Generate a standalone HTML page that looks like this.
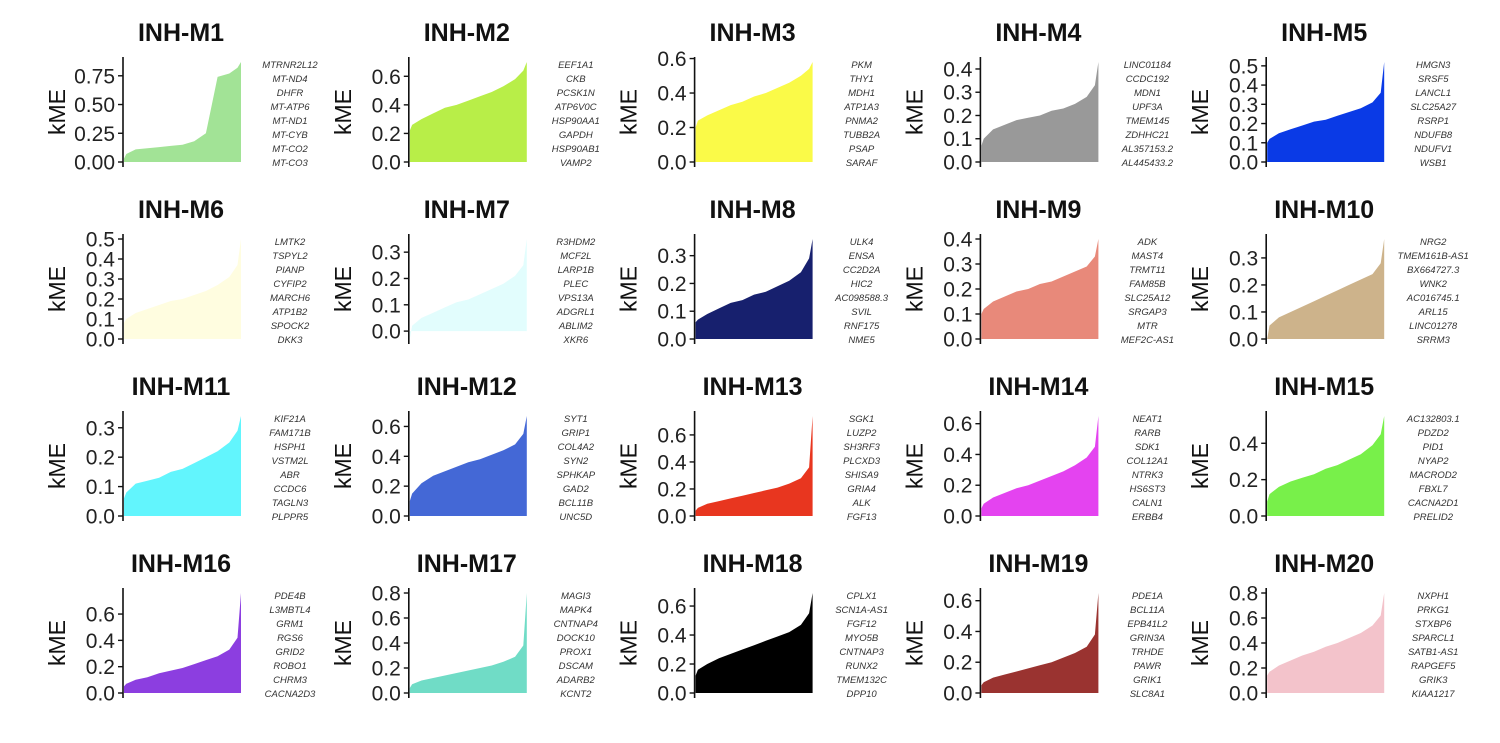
<!DOCTYPE html>
<html><head><meta charset="utf-8">
<style>
html,body{margin:0;padding:0;background:#fff;}
svg{display:block;font-family:"Liberation Sans",Arial,sans-serif;}
</style></head>
<body>
<svg id="chart" width="1500" height="743" viewBox="0 0 1500 743"></svg>
<script>
const moduleNames = ["INH-M1","INH-M2","INH-M3","INH-M4","INH-M5","INH-M6","INH-M7","INH-M8","INH-M9","INH-M10","INH-M11","INH-M12","INH-M13","INH-M14","INH-M15","INH-M16","INH-M17","INH-M18","INH-M19","INH-M20"];
const moduleColors = ["#a2e396","#b8ee48","#fafa48","#999999","#0a3ae6","#fffde0","#e2fdfd","#17206e","#e8897a","#cdb38b","#62f5fd","#4468d6","#e8361f","#e443f0","#78f04a","#8c3ee0","#70dcc6","#000000","#9a3330","#f3c3cb"];
const rankFractions = [0,0.02,0.1,0.2,0.3,0.4,0.5,0.6,0.7,0.8,0.9,0.97,1];
const kmeValues = [
 [0.03,0.07,0.11,0.12,0.13,0.14,0.15,0.18,0.25,0.74,0.77,0.82,0.87],
 [0.22,0.26,0.30,0.34,0.38,0.40,0.43,0.46,0.49,0.53,0.58,0.64,0.70],
 [0.20,0.24,0.27,0.30,0.33,0.35,0.38,0.40,0.43,0.46,0.50,0.54,0.58],
 [0.07,0.10,0.14,0.16,0.18,0.19,0.20,0.22,0.23,0.25,0.28,0.33,0.43],
 [0.10,0.12,0.15,0.17,0.19,0.21,0.22,0.24,0.26,0.28,0.31,0.36,0.52],
 [0.08,0.10,0.13,0.15,0.17,0.19,0.20,0.22,0.24,0.27,0.31,0.37,0.50],
 [-0.03,0.02,0.05,0.07,0.09,0.11,0.12,0.14,0.16,0.18,0.21,0.25,0.35],
 [0.06,0.07,0.09,0.11,0.13,0.14,0.16,0.17,0.19,0.21,0.24,0.29,0.36],
 [0.10,0.12,0.15,0.17,0.19,0.20,0.22,0.23,0.25,0.27,0.29,0.33,0.40],
 [0.00,0.05,0.08,0.10,0.12,0.14,0.16,0.18,0.20,0.22,0.24,0.28,0.37],
 [0.06,0.08,0.11,0.12,0.13,0.15,0.16,0.18,0.20,0.22,0.25,0.29,0.34],
 [0.10,0.15,0.22,0.27,0.30,0.33,0.36,0.38,0.41,0.44,0.48,0.55,0.67],
 [0.04,0.06,0.09,0.11,0.13,0.15,0.17,0.19,0.21,0.24,0.28,0.36,0.74],
 [0.05,0.08,0.12,0.15,0.18,0.20,0.23,0.26,0.29,0.33,0.38,0.45,0.65],
 [0.08,0.12,0.16,0.19,0.21,0.23,0.26,0.28,0.31,0.34,0.39,0.45,0.55],
 [0.05,0.07,0.10,0.12,0.15,0.17,0.19,0.22,0.25,0.28,0.33,0.42,0.76],
 [0.04,0.07,0.10,0.12,0.14,0.16,0.18,0.20,0.22,0.25,0.29,0.38,0.80],
 [0.12,0.16,0.20,0.24,0.27,0.30,0.33,0.36,0.39,0.42,0.47,0.55,0.69],
 [0.05,0.07,0.10,0.12,0.14,0.16,0.18,0.20,0.23,0.26,0.30,0.38,0.65],
 [0.14,0.17,0.22,0.26,0.30,0.33,0.37,0.40,0.44,0.48,0.54,0.62,0.80]
];
const tickLabels = [
 ["0.00","0.25","0.50","0.75"],["0.0","0.2","0.4","0.6"],["0.0","0.2","0.4","0.6"],["0.0","0.1","0.2","0.3","0.4"],["0.0","0.1","0.2","0.3","0.4","0.5"],
 ["0.0","0.1","0.2","0.3","0.4","0.5"],["0.0","0.1","0.2","0.3"],["0.0","0.1","0.2","0.3"],["0.0","0.1","0.2","0.3","0.4"],["0.0","0.1","0.2","0.3"],
 ["0.0","0.1","0.2","0.3"],["0.0","0.2","0.4","0.6"],["0.0","0.2","0.4","0.6"],["0.0","0.2","0.4","0.6"],["0.0","0.2","0.4"],
 ["0.0","0.2","0.4","0.6"],["0.0","0.2","0.4","0.6","0.8"],["0.0","0.2","0.4","0.6"],["0.0","0.2","0.4","0.6"],["0.0","0.2","0.4","0.6","0.8"]
];
const hubGenes = [
 ["MTRNR2L12","MT-ND4","DHFR","MT-ATP6","MT-ND1","MT-CYB","MT-CO2","MT-CO3"],
 ["EEF1A1","CKB","PCSK1N","ATP6V0C","HSP90AA1","GAPDH","HSP90AB1","VAMP2"],
 ["PKM","THY1","MDH1","ATP1A3","PNMA2","TUBB2A","PSAP","SARAF"],
 ["LINC01184","CCDC192","MDN1","UPF3A","TMEM145","ZDHHC21","AL357153.2","AL445433.2"],
 ["HMGN3","SRSF5","LANCL1","SLC25A27","RSRP1","NDUFB8","NDUFV1","WSB1"],
 ["LMTK2","TSPYL2","PIANP","CYFIP2","MARCH6","ATP1B2","SPOCK2","DKK3"],
 ["R3HDM2","MCF2L","LARP1B","PLEC","VPS13A","ADGRL1","ABLIM2","XKR6"],
 ["ULK4","ENSA","CC2D2A","HIC2","AC098588.3","SVIL","RNF175","NME5"],
 ["ADK","MAST4","TRMT11","FAM85B","SLC25A12","SRGAP3","MTR","MEF2C-AS1"],
 ["NRG2","TMEM161B-AS1","BX664727.3","WNK2","AC016745.1","ARL15","LINC01278","SRRM3"],
 ["KIF21A","FAM171B","HSPH1","VSTM2L","ABR","CCDC6","TAGLN3","PLPPR5"],
 ["SYT1","GRIP1","COL4A2","SYN2","SPHKAP","GAD2","BCL11B","UNC5D"],
 ["SGK1","LUZP2","SH3RF3","PLCXD3","SHISA9","GRIA4","ALK","FGF13"],
 ["NEAT1","RARB","SDK1","COL12A1","NTRK3","HS6ST3","CALN1","ERBB4"],
 ["AC132803.1","PDZD2","PID1","NYAP2","MACROD2","FBXL7","CACNA2D1","PRELID2"],
 ["PDE4B","L3MBTL4","GRM1","RGS6","GRID2","ROBO1","CHRM3","CACNA2D3"],
 ["MAGI3","MAPK4","CNTNAP4","DOCK10","PROX1","DSCAM","ADARB2","KCNT2"],
 ["CPLX1","SCN1A-AS1","FGF12","MYO5B","CNTNAP3","RUNX2","TMEM132C","DPP10"],
 ["PDE1A","BCL11A","EPB41L2","GRIN3A","TRHDE","PAWR","GRIK1","SLC8A1"],
 ["NXPH1","PRKG1","STXBP6","SPARCL1","SATB1-AS1","RAPGEF5","GRIK3","KIAA1217"]
];

const NS = "http://www.w3.org/2000/svg";
const svg = document.getElementById("chart");
function mk(tag, attrs, parent){ const e=document.createElementNS(NS,tag); for(const k in attrs) e.setAttribute(k,attrs[k]); parent.appendChild(e); return e; }

for(let i=0;i<moduleNames.length;i++){
  const col=i%5,row=Math.floor(i/5);
  const ax=123+col*285.8, top=57+row*177, bot=167+row*177, W=117;
  const vals=kmeValues[i];
  const lo=Math.min(0,Math.min(...vals)), hi=Math.max(...vals), r=hi-lo;
  const dmin=lo-0.05*r, dmax=hi+0.05*r;
  const y=v=>bot-(v-dmin)/(dmax-dmin)*(bot-top);
  const x=f=>ax+1+f*W;
  const g=mk("g",{},svg);
  
  
  let d="M"+x(0)+","+y(0);
  for(let k=0;k<rankFractions.length;k++) d+=" L"+x(rankFractions[k]).toFixed(1)+","+y(vals[k]).toFixed(1);
  d+=" L"+x(1)+","+y(0)+" Z";
  const area=mk("path",{d:d,fill:moduleColors[i],stroke:"none"},g);
  
  
  const axl=mk("line",{x1:ax,y1:top,x2:ax,y2:bot,stroke:"#111","stroke-width":1.6},g);
  
  
  for(const t of tickLabels[i]){
    const ty=y(parseFloat(t));
    mk("line",{x1:ax-5,y1:ty,x2:ax,y2:ty,stroke:"#111","stroke-width":1.4},g);
    const tl=mk("text",{x:ax-8,y:ty+7.5,"text-anchor":"end","font-size":21,fill:"#222"},g);
    tl.textContent=t;
    
    
  }
  const yl=mk("text",{x:0,y:0,transform:`translate(${ax-58},${(top+bot)/2}) rotate(-90)`,"text-anchor":"middle","font-size":23,fill:"#111"},g);
  yl.textContent="kME";
  
  
  const ti=mk("text",{x:ax+58,y:top-16,"text-anchor":"middle","font-size":25,"font-weight":"bold",fill:"#111"},g);
  ti.textContent=moduleNames[i];
  
  
  hubGenes[i].forEach((gn,k)=>{
    const t=mk("text",{x:ax+167,y:top+11+k*14,"text-anchor":"middle","font-size":9.5,"font-style":"italic",fill:"#333"},g);
    t.textContent=gn;
    
    
  });
}
</script>
</body></html>
